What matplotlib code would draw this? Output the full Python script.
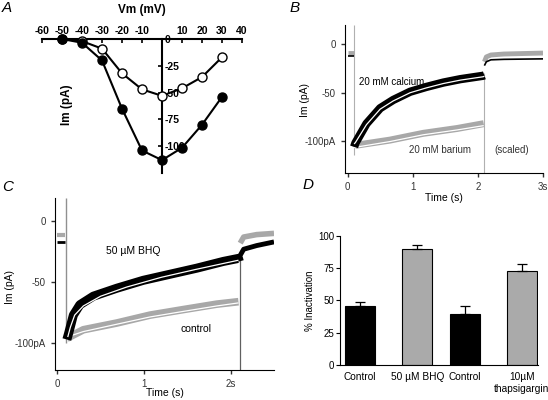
import numpy as np
import matplotlib
matplotlib.use('Agg')
import matplotlib.pyplot as plt

plt.rcParams['font.family'] = ['Liberation Sans', 'DejaVu Sans']
plt.rcParams['axes.unicode_minus'] = False
plt.rcParams['lines.solid_joinstyle'] = 'round'
plt.rcParams['lines.solid_capstyle'] = 'butt'

# ---- panel A: I-V relation ----
vm = [-50, -40, -30, -20, -10, 0, 10, 20, 30]
im_filled = [0, -3.5, -20, -65, -104, -113, -101.5, -80, -54]
im_open = [0, -2, -9, -32, -47, -53, -46, -35.5, -17]

# ---- panel B: calcium vs barium ----
b_pre_t = [0, 0.095]
b_ca_pre = [-12, -12]
b_ba_pre = [-8.5, -8.5]
b_ca_t = [0.10, 0.12, 0.29, 0.5, 0.7, 0.96, 1.21, 1.47, 1.73, 2.08, 2.1]
b_ca = [-106, -102, -82, -66, -57.5, -49, -44, -39.5, -36, -32.5, -32]
b_ca_fit = [-103, -101.5, -83, -67, -58.5, -50, -45, -40.5, -37, -33.5, -33]
b_ba_t = [0.10, 0.11, 0.65, 1.16, 1.68, 2.09]
b_ba = [-106, -104.5, -99, -92, -87, -82]
b_ba_fit = [-107, -106.5, -100.5, -93.5, -88.5, -84]
b_post_t = [2.1, 2.13, 2.2, 2.4, 3.0]
b_ca_post = [-22, -18, -16, -15.5, -15]
b_ba_post = [-18, -13, -11, -10, -9]

# ---- panel C: BHQ vs control ----
c_pre_t = [0, 0.09]
c_bhq_pre = [-17, -17]
c_ctl_pre = [-11, -11]
c_bhq_t = [0.11, 0.13, 0.185, 0.26, 0.415, 0.685, 0.99, 1.30, 1.61, 1.915, 2.09, 2.1]
c_bhq = [-97, -92, -77, -68.5, -61.5, -55, -48.5, -43.5, -38.5, -33, -30.5, -33]
c_fit_t = [0.12, 0.15, 0.2, 0.3, 0.5, 0.8, 1.2, 1.6, 2.09]
c_bhq_fit = [-95, -87, -77, -69.5, -61.5, -54, -46, -39.5, -32]
c_ctl_t = [0.11, 0.3, 0.685, 1.07, 1.45, 1.84, 2.09]
c_ctl = [-96, -89, -83.5, -77, -72.5, -68, -66]
c_ctl_fit = [-95, -90.5, -84.5, -78.5, -74, -69.5, -67]
c_post_t = [2.11, 2.15, 2.3, 2.5]
c_bhq_post = [-28, -23, -20, -17]
c_ctl_post = [-18, -13, -11, -10]

# ---- panel D: % inactivation ----
d_labels = ['Control', '50 \u00b5M BHQ', 'Control', '10\u00b5M\nthapsigargin']
d_vals = [46, 89.5, 39.5, 72.7]
d_err = [3, 3.3, 6.5, 5.2]
d_colors = ['black', '#aaaaaa', 'black', '#aaaaaa']

W, H = 548, 400
fig = plt.figure(figsize=(W / 100, H / 100), dpi=100)

def px_axes(x0, y0, x1, y1):
    return fig.add_axes([x0 / W, 1 - y1 / H, (x1 - x0) / W, (y1 - y0) / H])

def letter(x, y, s):
    fig.text(x / W, 1 - y / H, s, fontsize=11, style='italic', va='center', ha='left')

fs = 7

# ===== A =====
axA = px_axes(42, 39, 242, 173)
axA.plot(vm, im_open, '-', color='black', lw=1.5, marker='o', ms=6.5,
         mfc='white', mec='black', mew=1, clip_on=False, zorder=3)
axA.plot(vm, im_filled, '-', color='black', lw=1.5, marker='o', ms=6.5,
         mfc='black', mec='black', clip_on=False, zorder=4)
axA.set_xlim(-60, 40)
axA.set_ylim(-125, 0)
axA.spines['left'].set_visible(False)
axA.spines['bottom'].set_visible(False)
axA.spines['right'].set_position(('data', 0))
axA.spines['top'].set_linewidth(1.5)
axA.spines['right'].set_linewidth(1.5)
axA.xaxis.tick_top()
axA.set_xticks([-60, -50, -40, -30, -20, -10, 10, 20, 30, 40])
axA.yaxis.tick_right()
axA.set_yticks([0, -25, -50, -75, -100])
axA.tick_params(axis='x', direction='in', length=3, width=1.2, labelsize=7.5, pad=2)
axA.tick_params(axis='y', direction='in', length=3, width=1.2, labelsize=7.5, pad=2)
for lab in axA.get_xticklabels() + axA.get_yticklabels():
    lab.set_fontweight('bold')
fig.text(142 / W, 1 - 10 / H, 'Vm (mV)', fontsize=8.5, fontweight='bold', ha='center', va='center')
fig.text(67 / W, 1 - 105 / H, 'Im (pA)', fontsize=8.5, fontweight='bold', ha='center', va='center',
         rotation=90)
letter(2, 8, 'A')

# ===== B =====
gray = '#a8a8a8'
axB = px_axes(345, 25, 543, 173)
axB.plot([0.1, 0.1], [20, -114], color='#b0b0b0', lw=0.8)
axB.plot([2.1, 2.1], [-133, -30], color='#b0b0b0', lw=0.8)
axB.plot(b_pre_t, b_ba_pre, color=gray, lw=3.5)
axB.plot(b_pre_t, b_ca_pre, color='black', lw=1.2)
axB.plot(b_ba_t, b_ba, color=gray, lw=5)
axB.plot(b_ba_t, b_ba_fit, color='white', lw=0.9)
axB.plot(b_ca_t, b_ca, color='black', lw=6)
axB.plot(b_ca_t, b_ca_fit, color='white', lw=0.9)
axB.plot(b_post_t, b_ba_post, color=gray, lw=3.5)
axB.plot(b_post_t, b_ca_post, color='black', lw=1.2)
axB.set_xlim(-0.04, 3.0)
axB.set_ylim(-133, 20)
axB.set_xticks([0, 1, 2, 3])
axB.set_xticklabels(['0', '1', '2', '3s'])
axB.set_yticks([0, -50, -100])
axB.set_yticklabels(['0', '-50', '-100pA'])
for s in ['top', 'right']:
    axB.spines[s].set_visible(False)
axB.tick_params(labelsize=fs, length=3, width=1, colors='#333333')
axB.set_xlabel('Time (s)', fontsize=fs + 0.5)
axB.set_ylabel('Im (pA)', fontsize=fs + 0.5)
axB.xaxis.set_label_coords(0.5, -0.135)
axB.yaxis.set_label_coords(-0.177, 0.49)
axB.text(0.17, -42, '20 mM calcium', fontsize=fs)
axB.text(0.95, -112, '20 mM barium', fontsize=fs, color='#333333')
axB.text(2.25, -112, '(scaled)', fontsize=fs, color='#333333')
letter(290, 8, 'B')

# ===== C =====
axC = px_axes(55, 198, 274, 370)
axC.plot([0.097, 0.097], [19, -100], color='#909090', lw=1)
axC.plot([2.107, 2.107], [-122, -30], color='#606060', lw=0.9)
axC.plot(c_pre_t, c_ctl_pre, color=gray, lw=3)
axC.plot(c_pre_t, c_bhq_pre, color='black', lw=2)
axC.plot(c_ctl_t, c_ctl, color=gray, lw=5.5)
axC.plot(c_ctl_t, c_ctl_fit, color='white', lw=0.9)
axC.plot(c_bhq_t, c_bhq, color='black', lw=6.5)
axC.plot(c_fit_t, c_bhq_fit, color='white', lw=0.9)
axC.plot(c_post_t, c_ctl_post, color=gray, lw=4)
axC.plot(c_post_t, c_bhq_post, color='black', lw=3.5)
axC.set_xlim(-0.027, 2.5)
axC.set_ylim(-122, 19)
axC.set_xticks([0, 1, 2])
axC.set_xticklabels(['0', '1', '2s'])
axC.set_yticks([0, -50, -100])
axC.set_yticklabels(['0', '-50', '-100pA'])
for s in ['top', 'right']:
    axC.spines[s].set_visible(False)
axC.tick_params(labelsize=fs, length=3, width=1, colors='#333333')
axC.set_xlabel('Time (s)', fontsize=fs + 0.5)
axC.set_ylabel('Im (pA)', fontsize=fs + 0.5)
axC.xaxis.set_label_coords(0.5, -0.105)
axC.yaxis.set_label_coords(-0.183, 0.48)
axC.text(0.88, -27, '50 \u00b5M BHQ', fontsize=fs + 0.5, ha='center')
axC.text(1.6, -91, 'control', fontsize=fs + 0.5, ha='center')
letter(2, 187, 'C')

# ===== D =====
axD = px_axes(340, 235.7, 538, 365)
pos = [0.667, 2.583, 4.167, 6.057]
axD.bar(pos, d_vals, width=1, color=d_colors, edgecolor='black', linewidth=0.8, zorder=2)
axD.errorbar(pos, d_vals, yerr=[[0] * 4, d_err], fmt='none', ecolor='black',
             elinewidth=0.9, capsize=3.5, capthick=0.9, zorder=3)
axD.set_xlim(0, 6.6)
axD.set_ylim(0, 100)
axD.set_yticks([0, 25, 50, 75, 100])
axD.set_xticks(pos)
axD.set_xticklabels(d_labels)
axD.tick_params(axis='x', length=0, labelsize=fs + 0.3, pad=5)
axD.tick_params(axis='y', length=3, labelsize=fs, pad=1)
for s in ['top', 'right']:
    axD.spines[s].set_visible(False)
axD.set_ylabel('% Inactivation', fontsize=fs)
axD.yaxis.set_label_coords(-0.126, 0.5)
letter(303, 185, 'D')

fig.savefig('out.png', dpi=100)
